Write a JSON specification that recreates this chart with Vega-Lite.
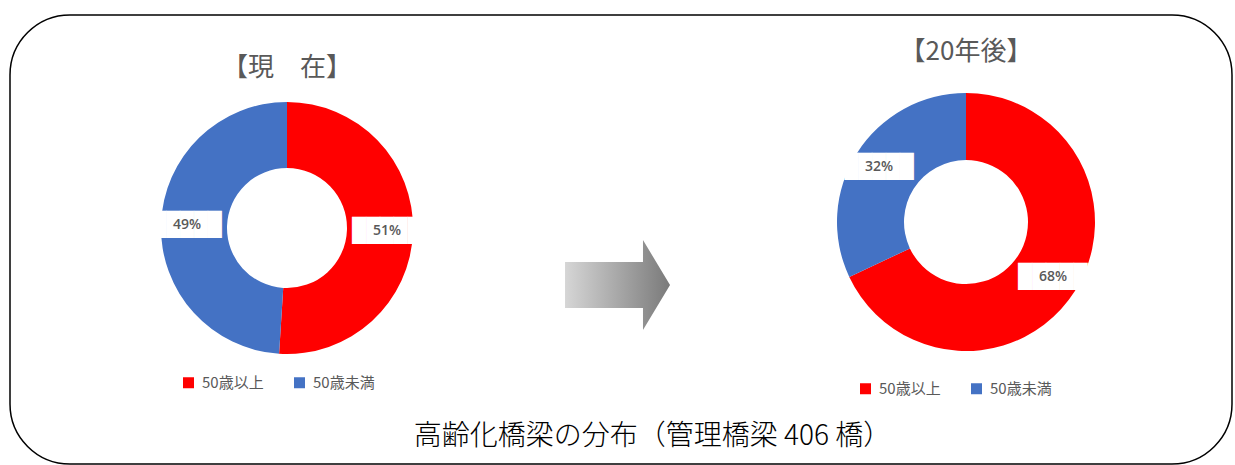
{
  "$schema": "https://vega.github.io/schema/vega-lite/v6.json",
  "width": 1235,
  "height": 465,
  "autosize": {"type": "fit", "contains": "padding"},
  "padding": {"left": 10, "top": 15, "right": 3, "bottom": 1},
  "background": "white",
  "datasets": {
    "shares": [
      {"period": "現在", "category": "50歳以上", "share": 0.51},
      {"period": "現在", "category": "50歳未満", "share": 0.49},
      {"period": "20年後", "category": "50歳以上", "share": 0.68},
      {"period": "20年後", "category": "50歳未満", "share": 0.32}
    ],
    "titles": [
      {"period": "現在", "label": "【現　在】"},
      {"period": "20年後", "label": "【20年後】"}
    ],
    "notes": [
      {"period": "→", "label": "高齢化橋梁の分布（管理橋梁 406 橋）"}
    ]
  },
  "encoding": {
    "x": {"field": "period", "type": "nominal", "axis": null,
          "scale": {"type": "point", "domain": ["現在", "→", "20年後"], "range": [277, 956], "padding": 0}},
    "y": {"field": "period", "type": "nominal", "axis": null,
          "scale": {"type": "point", "domain": ["現在", "→", "20年後"], "range": [213, 207], "padding": 0}}
  },
  "layer": [
    {
      "data": {"name": "shares"},
      "transform": [{"filter": "datum.period === '現在'"}],
      "layer": [
        {
          "mark": {"type": "arc", "outerRadius": 126, "innerRadius": 60},
          "encoding": {
            "theta": {"field": "share", "type": "quantitative", "stack": true},
            "order": {"field": "category", "type": "nominal", "sort": "ascending"},
            "color": {"field": "category", "type": "nominal",
              "scale": {"domain": ["50歳以上", "50歳未満"], "range": ["#FF0000", "#4472C4"]},
              "legend": {"title": null, "orient": "none", "legendX": 171, "legendY": 360, "direction": "horizontal"}}
          }
        },
        {
          "mark": {"type": "text", "radius": 100, "text": "█████", "font": "DejaVu Sans Mono", "fontSize": 23, "color": "#FFFFFF", "baseline": "middle", "align": "center"},
          "encoding": {
            "theta": {"field": "share", "type": "quantitative", "stack": true},
            "order": {"field": "category", "type": "nominal", "sort": "ascending"},
            "detail": {"field": "category", "type": "nominal"}
          }
        },
        {
          "mark": {"type": "text", "radius": 100, "font": "Open Sans", "fontSize": 14, "fontWeight": 600, "color": "#595959", "baseline": "middle", "align": "center"},
          "encoding": {
            "theta": {"field": "share", "type": "quantitative", "stack": true},
            "order": {"field": "category", "type": "nominal", "sort": "ascending"},
            "detail": {"field": "category", "type": "nominal"},
            "text": {"field": "share", "type": "quantitative", "format": ".0%"}
          }
        }
      ]
    },
    {
      "data": {"name": "shares"},
      "transform": [{"filter": "datum.period === '20年後'"}],
      "layer": [
        {
          "mark": {"type": "arc", "outerRadius": 129, "innerRadius": 62},
          "encoding": {
            "theta": {"field": "share", "type": "quantitative", "stack": true},
            "order": {"field": "category", "type": "nominal", "sort": "ascending"},
            "color": {"field": "category", "type": "nominal",
              "scale": {"domain": ["50歳以上", "50歳未満"], "range": ["#FF0000", "#4472C4"]},
              "legend": {"title": null, "orient": "none", "legendX": 848, "legendY": 366, "direction": "horizontal"}}
          }
        },
        {
          "mark": {"type": "text", "radius": 103, "text": "█████", "font": "DejaVu Sans Mono", "fontSize": 23, "color": "#FFFFFF", "baseline": "middle", "align": "center"},
          "encoding": {
            "theta": {"field": "share", "type": "quantitative", "stack": true},
            "order": {"field": "category", "type": "nominal", "sort": "ascending"},
            "detail": {"field": "category", "type": "nominal"}
          }
        },
        {
          "mark": {"type": "text", "radius": 103, "font": "Open Sans", "fontSize": 14, "fontWeight": 600, "color": "#595959", "baseline": "middle", "align": "center"},
          "encoding": {
            "theta": {"field": "share", "type": "quantitative", "stack": true},
            "order": {"field": "category", "type": "nominal", "sort": "ascending"},
            "detail": {"field": "category", "type": "nominal"},
            "text": {"field": "share", "type": "quantitative", "format": ".0%"}
          }
        }
      ]
    },
    {
      "data": {"name": "titles"},
      "transform": [{"filter": "datum.period === '現在'"}],
      "mark": {"type": "text", "font": "Noto Sans CJK JP", "fontSize": 26, "color": "#595959", "dy": -160, "baseline": "middle", "align": "center"},
      "encoding": {"text": {"field": "label"}}
    },
    {
      "data": {"name": "titles"},
      "transform": [{"filter": "datum.period === '20年後'"}],
      "mark": {"type": "text", "font": "Noto Sans CJK JP", "fontSize": 26, "color": "#595959", "dy": -170, "baseline": "middle", "align": "center"},
      "encoding": {"text": {"field": "label"}}
    },
    {
      "data": {"name": "notes"},
      "mark": {"type": "point", "filled": true, "opacity": 1, "size": 11025, "strokeWidth": 0,
        "shape": "M-1.171,0.705 L0.314,0.705 L0.314,0.286 L0.829,1.143 L0.314,2 L0.314,1.581 L-1.171,1.581 Z",
        "color": {"gradient": "linear", "x1": 0, "y1": 0, "x2": 1, "y2": 0,
          "stops": [{"offset": 0, "color": "#D6D6D6"}, {"offset": 1, "color": "#7A7A7A"}]}},
      "encoding": {}
    },
    {
      "data": {"name": "notes"},
      "mark": {"type": "text", "font": "Noto Sans CJK JP", "fontSize": 28, "fontWeight": 300, "color": "#000000", "dx": 26, "dy": 212, "baseline": "middle", "align": "center"},
      "encoding": {"text": {"field": "label"}}
    }
  ],
  "resolve": {"scale": {"color": "independent", "theta": "independent"}, "legend": {"color": "independent"}},
  "config": {
    "view": {"stroke": "#000000", "strokeWidth": 1.5, "cornerRadius": 60},
    "legend": {"symbolType": "square", "symbolSize": 121, "symbolStrokeWidth": 0, "labelFont": "Noto Sans CJK JP", "labelFontSize": 15, "labelColor": "#595959", "columnPadding": 28, "labelOffset": 6, "padding": 0}
  }
}
